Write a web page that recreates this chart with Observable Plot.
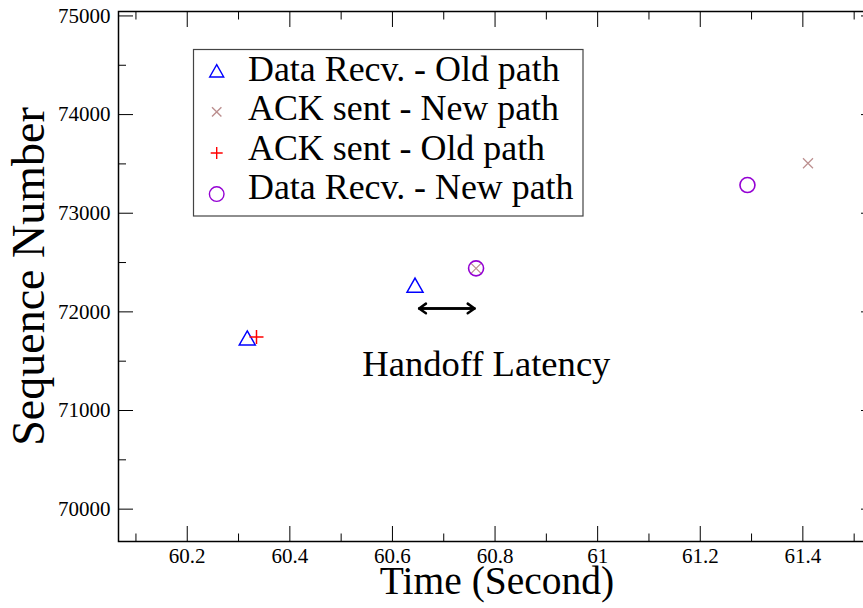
<!DOCTYPE html>
<html><head><meta charset="utf-8">
<script src="https://cdn.jsdelivr.net/npm/d3@7"></script>
<script src="https://cdn.jsdelivr.net/npm/@observablehq/plot@0.6"></script>
<style>
html,body{margin:0;padding:0;background:#fff;overflow:hidden;width:863px;height:608px;}
#wrap{position:relative;width:863px;height:608px;overflow:hidden;background:#fff;}
#wrap svg{display:block;}
</style></head><body><div id="wrap"></div>
<script>
// ---- data ----
const dataRecvOldX = [60.317, 60.644];
const dataRecvOldY = [71736, 72271];
const ackNewX = [60.763, 61.410];
const ackNewY = [72441, 73507];
const ackOldX = [60.335];
const ackOldY = [71746];
const dataRecvNewX = [60.763, 61.292];
const dataRecvNewY = [72441, 73286];
const seriesNames = ["Data Recv. - Old path", "ACK sent - New path", "ACK sent - Old path", "Data Recv. - New path"];
const seriesColors = ["#0000ff", "#bc8f8f", "#ff0000", "#9400d3"];
const xMajorTicks = [60.2, 60.4, 60.6, 60.8, 61, 61.2, 61.4];
const xMinorTicks = [60.1, 60.3, 60.5, 60.7, 60.9, 61.1, 61.3, 61.5];
const yMajorTicks = [70000, 71000, 72000, 73000, 74000, 75000];
const yMinorTicks = [70500, 71500, 72500, 73500, 74500];
const latencyStart = [60.652];
const latencyEnd = [60.760];
const latencyY = [72035];
const annotationLabel = ["Handoff Latency"];
const annotationX = [60.783];
const annotationY = [71350];
const xLabel = "Time (Second)";
const yLabel = "Sequence Number";

// ---- symbols (centered on their bounding box) ----
const triSym = {draw(ctx, size) { const r = Math.sqrt(size / Math.PI); const h = r * 0.875; ctx.moveTo(0, -h); ctx.lineTo(r, h); ctx.lineTo(-r, h); ctx.closePath(); }};
const timesSym = {draw(ctx, size) { const r = Math.sqrt(size / Math.PI); ctx.moveTo(-r, -r); ctx.lineTo(r, r); ctx.moveTo(-r, r); ctx.lineTo(r, -r); }};
const plusSym = {draw(ctx, size) { const r = Math.sqrt(size / Math.PI); ctx.moveTo(-r, 0); ctx.lineTo(r, 0); ctx.moveTo(0, -r); ctx.lineTo(0, r); }};
const circSym = {draw(ctx, size) { const r = Math.sqrt(size / Math.PI); ctx.moveTo(r, 0); ctx.arc(0, 0, r, 0, 2 * Math.PI); }};
const seriesSymbols = [triSym, timesSym, plusSym, circSym];
const seriesR = [8, 5, 7, 7.5];
const seriesSW = [1.5, 1.2, 1.5, 1.6];

const series = [
  [dataRecvOldX, dataRecvOldY],
  [ackNewX, ackNewY],
  [ackOldX, ackOldY],
  [dataRecvNewX, dataRecvNewY]
].map(([xs, ys], i) => xs.map((x, j) => ({x, y: ys[j], s: i})));

const font = "Liberation Serif";
const empty = () => "";
const fmt = d => String(d);

const chart = Plot.plot({
  width: 875, height: 608,
  marginLeft: 118, marginRight: 0, marginTop: 11, marginBottom: 67,
  x: {domain: [60.066, 61.5416]},
  y: {domain: [69672, 75045]},
  style: {fontFamily: font, background: "white", color: "black", maxWidth: "none", height: "608px", width: "875px"},
  marks: [
    // inward ticks on all four sides
    Plot.axisX({anchor: "bottom", ticks: xMajorTicks, tickSize: -15, tickFormat: empty, label: null}),
    Plot.axisX({anchor: "bottom", ticks: xMinorTicks, tickSize: -7.5, tickFormat: empty, label: null}),
    Plot.axisX({anchor: "top", ticks: xMajorTicks, tickSize: -15, tickFormat: empty, label: null}),
    Plot.axisX({anchor: "top", ticks: xMinorTicks, tickSize: -7.5, tickFormat: empty, label: null}),
    Plot.axisY({anchor: "left", ticks: yMajorTicks, tickSize: -15, tickFormat: empty, label: null}),
    Plot.axisY({anchor: "left", ticks: yMinorTicks, tickSize: -8, tickFormat: empty, label: null}),
    Plot.axisY({anchor: "right", ticks: yMajorTicks, tickSize: -15, tickFormat: empty, label: null}),
    Plot.axisY({anchor: "right", ticks: yMinorTicks, tickSize: -8, tickFormat: empty, label: null}),
    // tick labels
    Plot.axisX({anchor: "bottom", ticks: xMajorTicks, tickSize: 0, tickPadding: 7, tickFormat: fmt, fontSize: 21, fontFamily: font, fontVariant: "normal", label: null}),
    Plot.axisY({anchor: "left", ticks: yMajorTicks, tickSize: 0, tickPadding: 8, tickFormat: fmt, fontSize: 21, fontFamily: font, fontVariant: "normal", label: null}),
    Plot.frame({stroke: "black", strokeWidth: 1.5}),
    // axis titles
    Plot.text([xLabel], {frameAnchor: "bottom", dy: 52, lineAnchor: "bottom", fontSize: 39.5, fontFamily: font, fill: "black"}),
    Plot.text([yLabel], {frameAnchor: "left", dx: -75, rotate: -90, textAnchor: "middle", lineAnchor: "bottom", fontSize: 46, fontFamily: font, fill: "black"}),
    // data
    ...series.map((d, i) => Plot.dot(d, {x: "x", y: "y", symbol: seriesSymbols[i], r: seriesR[i], stroke: seriesColors[i], strokeWidth: seriesSW[i], fill: "none"})),
    // handoff latency double arrow + label
    Plot.arrow(latencyStart, {x1: (d, i) => latencyStart[i], x2: (d, i) => latencyEnd[i], y1: (d, i) => latencyY[i], y2: (d, i) => latencyY[i], stroke: "black", strokeWidth: 2.5, headLength: 5, headAngle: 70}),
    Plot.arrow(latencyStart, {x1: (d, i) => latencyEnd[i], x2: (d, i) => latencyStart[i], y1: (d, i) => latencyY[i], y2: (d, i) => latencyY[i], stroke: "black", strokeWidth: 2.5, headLength: 5, headAngle: 70}),
    Plot.text(annotationLabel, {x: (d, i) => annotationX[i], y: (d, i) => annotationY[i], text: d => d, lineAnchor: "bottom", textAnchor: "middle", fontSize: 36.6, fontFamily: font, fill: "black"})
  ]
});
document.getElementById("wrap").appendChild(chart);

// ---- legend box (inside the plot area) ----
const leg = d3.select("#wrap").append("svg")
  .attr("width", 863).attr("height", 608)
  .style("position", "absolute").style("left", "0px").style("top", "0px").style("pointer-events", "none");
leg.append("rect").attr("x", 193.5).attr("y", 49.5).attr("width", 389.5).attr("height", 166.5)
  .attr("fill", "white").attr("stroke", "#444").attr("stroke-width", 1.2);
const legR = [7, 4.7, 6, 7.3];
seriesNames.forEach((name, i) => {
  leg.append("path")
    .attr("transform", `translate(216.7,${70.8 + i * 41.1})`)
    .attr("d", d3.symbol(seriesSymbols[i], Math.PI * legR[i] * legR[i])())
    .attr("fill", "none").attr("stroke", seriesColors[i]).attr("stroke-width", 1.4);
  leg.append("text").attr("x", 248).attr("y", 80.7 + i * 39.5)
    .attr("font-family", font).attr("font-size", 35.9).attr("fill", "black").text(name);
});
</script>
</body></html>
